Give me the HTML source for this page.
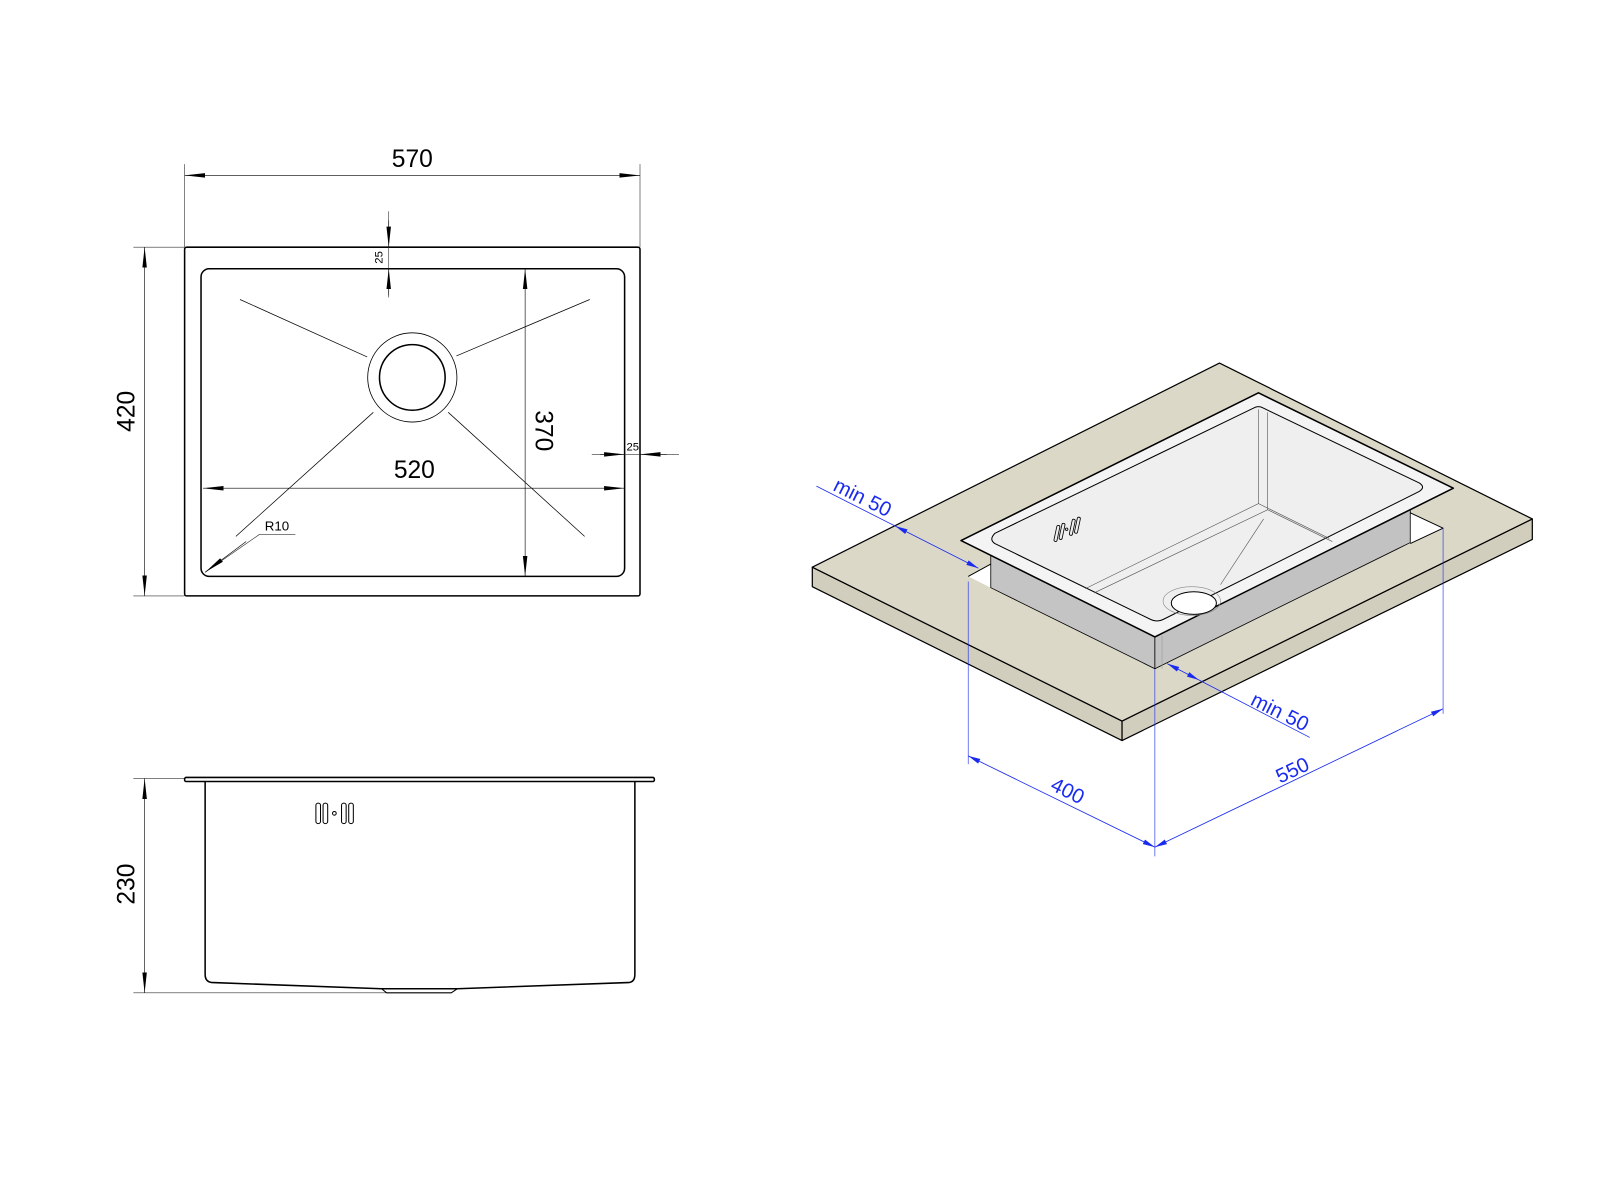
<!DOCTYPE html>
<html><head><meta charset="utf-8"><style>html,body{margin:0;padding:0;background:#fff}svg{display:block}</style></head>
<body>
<svg width="1600" height="1200" viewBox="0 0 1560 1170" xmlns="http://www.w3.org/2000/svg" font-family="Liberation Sans, DejaVu Sans, sans-serif">
<defs>
<marker id="a" viewBox="0 0 20 6" refX="20" refY="3" markerWidth="20" markerHeight="6" orient="auto-start-reverse" markerUnits="userSpaceOnUse"><path d="M0,0.8 L20,3 L0,5.2 Z" fill="#000"/></marker>
<marker id="b" viewBox="0 0 12 6" refX="12" refY="3" markerWidth="12" markerHeight="6" orient="auto-start-reverse" markerUnits="userSpaceOnUse"><path d="M0,0.5 L12,3 L0,5.5 Z" fill="#1a2bef"/></marker>
</defs>
<rect width="1560" height="1170" fill="#fff"/>
<!-- TOP VIEW -->
<g fill="none" stroke="#000">
<rect x="180" y="241" width="444" height="340" rx="2" stroke-width="1.5"/>
<rect x="196" y="262" width="413" height="300" rx="8" stroke-width="1.5"/>
<circle cx="402" cy="368" r="43.5" stroke-width="0.8"/>
<circle cx="402" cy="368" r="32" stroke-width="1.5"/>
<g stroke-width="0.7">
<line x1="234" y1="292" x2="358" y2="348"/><line x1="575" y1="292" x2="445" y2="347"/>
<line x1="364" y1="402" x2="230" y2="523"/><line x1="437" y1="402" x2="570" y2="523"/>
</g>
<g stroke-width="0.6" stroke="#333">
<line x1="180" y1="160" x2="180" y2="241"/><line x1="624" y1="160" x2="624" y2="241"/>
<line x1="130" y1="241" x2="180" y2="241"/><line x1="130" y1="581" x2="180" y2="581"/>
<line x1="379" y1="206" x2="379" y2="290"/>
<line x1="577" y1="443" x2="662" y2="443"/>
<line x1="130" y1="759" x2="180" y2="759"/><line x1="130" y1="968" x2="380" y2="968"/>
<polyline points="200,558 253,521 288,521"/>
</g>
<g stroke-width="0.6" marker-start="url(#a)" marker-end="url(#a)">
<line x1="180" y1="171" x2="624" y2="171"/>
<line x1="141" y1="241" x2="141" y2="581"/>
<line x1="512" y1="262" x2="512" y2="562"/>
<line x1="198" y1="476" x2="609" y2="476"/>
<line x1="141" y1="759" x2="141" y2="968"/>
</g>
<g stroke-width="0.6">
<line x1="379" y1="215" x2="379" y2="241" marker-end="url(#a)"/>
<line x1="379" y1="288" x2="379" y2="262" marker-end="url(#a)"/>
<line x1="585" y1="443" x2="609" y2="443" marker-end="url(#a)"/>
<line x1="650" y1="443" x2="624" y2="443" marker-end="url(#a)"/>
<line x1="240" y1="528" x2="200" y2="558" marker-end="url(#a)"/>
</g>
</g>
<g fill="#000">
<text x="402" y="163" font-size="24" text-anchor="middle">570</text>
<text x="404" y="466" font-size="24" text-anchor="middle">520</text>
<text transform="translate(131,401) rotate(-90)" font-size="24" text-anchor="middle">420</text>
<text transform="translate(522,420) rotate(90)" font-size="24" text-anchor="middle">370</text>
<text transform="translate(373,251) rotate(-90)" font-size="11" text-anchor="middle">25</text>
<text x="617" y="439" font-size="11" text-anchor="middle">25</text>
<text x="270" y="517" font-size="13" text-anchor="middle">R10</text>
<text transform="translate(131,862) rotate(-90)" font-size="24" text-anchor="middle">230</text>
</g>
<!-- SIDE VIEW -->
<g fill="none" stroke="#000" stroke-width="1.5">
<rect x="180" y="758" width="458" height="4" rx="1.5"/>
<path d="M200,762 V950 Q200,958 208,958 L372,964 L446,964 L612,958 Q619,958 619,950 V762"/>
<path d="M372,964 L377,968 L440,968 L446,964" stroke-width="1"/>
<rect x="308" y="783" width="4.5" height="20" rx="2.2" stroke-width="1"/>
<rect x="315" y="783" width="4.5" height="20" rx="2.2" stroke-width="1"/>
<circle cx="326" cy="793" r="1.8" stroke-width="1"/>
<rect x="333" y="783" width="4.5" height="20" rx="2.2" stroke-width="1"/>
<rect x="340" y="783" width="4.5" height="20" rx="2.2" stroke-width="1"/>
</g>
<!-- ISO VIEW -->
<g stroke="#000" stroke-width="1.2" stroke-linejoin="round">
<polygon points="792,553 1094,703 1094,722 792,572" fill="#d2cebe"/>
<polygon points="1094,703 1494,506 1494,526 1094,722" fill="#d2cebe"/>
<polygon points="792,553 1189,354 1494,506 1094,703" fill="#dcd8c8"/>
<!-- hole notches -->
<polygon points="944,562 966,550 966,573" fill="#fff" stroke="none"/>
<polygon points="1375,500 1407,515 1375,530" fill="#fff" stroke="none"/>
<polyline points="944,562 966,550" fill="none" stroke-width="1"/>
<polyline points="1375,500 1407,515 1375,530" fill="none" stroke-width="1"/>
<polygon points="966,540 1126,620 1126,652 966,573" fill="#c4c4c4" stroke-width="0.8"/>
<polygon points="1126,620 1375,497 1375,529 1126,652" fill="#c2c2c2" stroke-width="0.8"/>
<line x1="1133" y1="620" x2="1133" y2="652" stroke="#999" stroke-width="0.6"/>
<!-- rim -->
<polygon points="937,527 1227,383 1417,476 1126,621" fill="#f4f4f4" stroke-width="1.5"/>
<path d="M970,520 L1222,398 Q1227,395 1232,398 L1384,471 Q1390,475 1384,479 L1134,604 Q1128,607 1122,604 L970,530 Q964,526 970,520 Z" fill="#efefef" stroke-width="1"/>
</g>
<g fill="none" stroke="#555" stroke-width="0.6">
<line x1="944" y1="567" x2="944" y2="745" stroke="#1a2bef"/>
<line x1="1227" y1="399" x2="1227" y2="491"/>
<line x1="1236" y1="402" x2="1236" y2="497"/>
<polyline points="1058,574 1227,491 1296,525"/>
<polyline points="1067,578 1236,497 1299,528"/>
<line x1="1232" y1="506" x2="1190" y2="570"/>
<ellipse cx="1162" cy="586" rx="28" ry="14" stroke="#888"/>
<ellipse cx="1164" cy="588" rx="22" ry="11" fill="#fff" stroke="#000" stroke-width="1"/>
<g stroke="#000" stroke-width="0.8">
<rect x="1029" y="512" width="3" height="16" rx="1.5" transform="rotate(12 1030 520)"/>
<rect x="1034" y="510" width="3" height="16" rx="1.5" transform="rotate(12 1035 518)"/>
<circle cx="1040" cy="516" r="1.2"/>
<rect x="1044" y="506" width="3" height="16" rx="1.5" transform="rotate(12 1045 514)"/>
<rect x="1049" y="504" width="3" height="16" rx="1.5" transform="rotate(12 1050 512)"/>
</g>
</g>
<!-- blue dims -->
<g stroke="#1a2bef" stroke-width="0.8" fill="none">
<line x1="1126" y1="652" x2="1126" y2="835" stroke-width="0.6"/>
<line x1="1407" y1="515" x2="1407" y2="696" stroke-width="0.6"/>
<line x1="944" y1="737" x2="1126" y2="826" marker-start="url(#b)" marker-end="url(#b)"/>
<line x1="1126" y1="826" x2="1407" y2="691" marker-start="url(#b)" marker-end="url(#b)"/>
<line x1="796" y1="474" x2="873" y2="513"/>
<line x1="873" y1="513" x2="954" y2="554" marker-start="url(#b)" marker-end="url(#b)"/>
<line x1="1138" y1="647" x2="1169" y2="663" marker-start="url(#b)" marker-end="url(#b)"/>
<line x1="1169" y1="663" x2="1277" y2="719"/>
</g>
<g fill="#1a2bef" font-size="20" text-anchor="middle">
<text transform="translate(838,491) rotate(26.5)">min 50</text>
<text transform="translate(1245,700) rotate(26.5)">min 50</text>
<text transform="translate(1038,777) rotate(26.5)">400</text>
<text transform="translate(1263,757) rotate(-25.5)">550</text>
</g>
</svg>
</body></html>
